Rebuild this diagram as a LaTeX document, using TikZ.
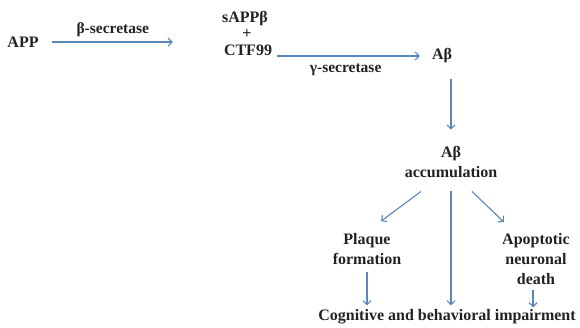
\documentclass[tikz,border=0pt]{standalone}
\usepackage{fontspec}
\setmainfont{Liberation Serif}
\usepackage{xcolor}
\usetikzlibrary{arrows.meta, positioning}
\definecolor{flow}{HTML}{5A86BE}
\definecolor{ink}{HTML}{222222}

\begin{document}
\begin{tikzpicture}[x=1pt, y=-1pt,
  term/.style={inner sep=0pt, align=center, font=\fontsize{16}{20}\selectfont\bfseries, text=ink},
  lbl/.style={inner sep=0pt, font=\fontsize{15.5}{18}\selectfont\bfseries, text=ink},
  arr/.style={-{Straight Barb[length=4pt, width=8pt]}, line width=1.1pt, color=flow}]
\useasboundingbox (0,0) rectangle (580,327);
\node[term] (app) at (23,42) {APP};
\node[term] (sapp) at (245,19) {sAPPβ};
\node[term] (plus) at (247,34) {+};
\node[term] (ctf) at (248,50) {CTF99};
\node[term] (ab) at (442,56) {Aβ};
\node[term] (acc) at (451,161.5) {Aβ\\accumulation};
\node[term] (plq) at (367,249) {Plaque\\formation};
\node[term] (apo) at (536,259) {Apoptotic\\neuronal\\death};
\node[term] (cog) at (447,317) {Cognitive and behavioral impairment};
% cleavage steps
\draw[arr, shorten <=13pt, shorten >=51pt] (app.east) -- (app.east -| ctf.west)
  node[lbl, pos=0.4, above=5pt] (bsec) {β-secretase};
\draw[arr, shorten <=5pt, shorten >=12pt] (ctf.east |- ab) -- (ab)
  node[lbl, pos=0.46, below=7pt] (gsec) {γ-secretase};
\draw[arr, shorten <=15pt, shorten >=16pt] (ab.south -| acc.north) -- (acc.north);
% consequences
\draw[arr] ([xshift=-30pt, yshift=-14pt]acc.south) -- ([xshift=14pt, yshift=12pt]plq.north);
\draw[arr, shorten <=14pt, shorten >=4pt] (acc.south) -- (acc.south |- cog.north);
\draw[arr] ([xshift=21pt, yshift=-14pt]acc.south) -- ([xshift=-32pt, yshift=11pt]apo.north);
\draw[arr, shorten <=7pt, shorten >=4pt] (plq.south) -- (plq.south |- cog.north);
\draw[arr, shorten <=5pt, shorten >=2pt] ([xshift=-3pt]apo.south) -- ([xshift=-3pt]apo.south |- cog.north);
\end{tikzpicture}
\end{document}
